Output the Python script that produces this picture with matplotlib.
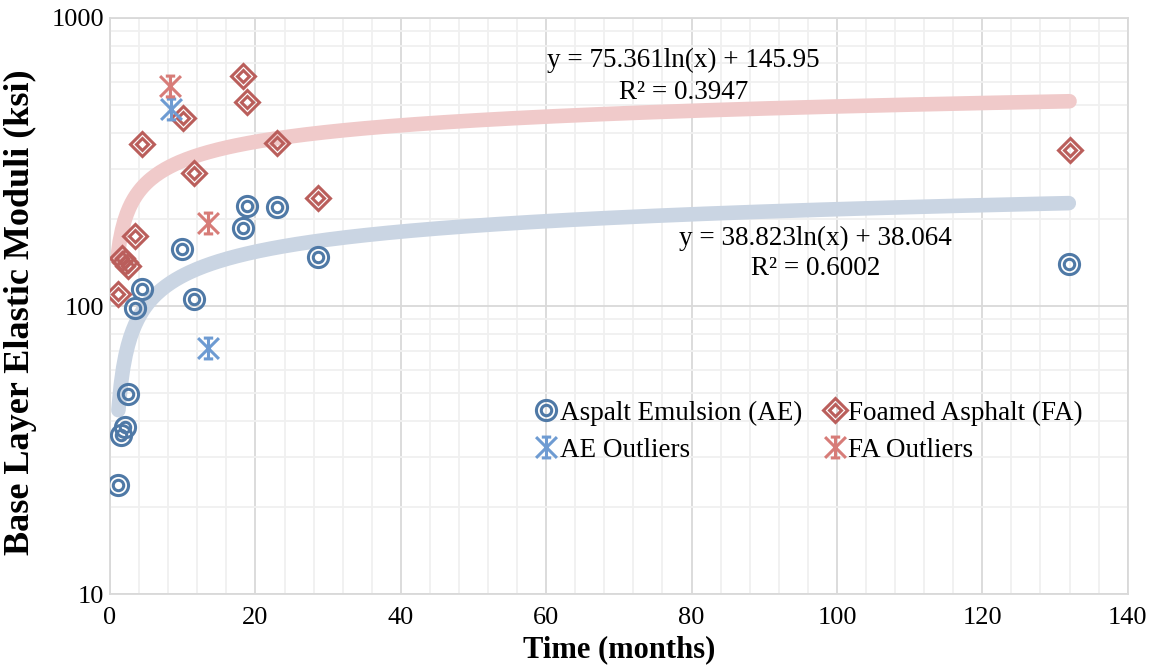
import numpy as np
import matplotlib.pyplot as plt
from matplotlib.path import Path
from matplotlib.ticker import FixedLocator, NullFormatter
from matplotlib.legend_handler import HandlerTuple

plt.rcParams['font.family'] = ['Liberation Serif', 'DejaVu Serif']

# data (time in months, modulus in ksi)
ae_time = [1.15, 1.5, 2.07, 2.5, 3.5, 4.4, 9.96, 11.6, 18.3, 18.8, 22.96, 28.55, 131.9]
ae_mod = [24.0, 35.8, 38.1, 49.4, 98.2, 114.2, 157.8, 105.5, 186.1, 222.9, 221.3, 148.3, 139.9]

fa_time = [1.15, 1.6, 2.07, 2.5, 3.5, 4.45, 10.0, 11.6, 18.3, 18.8, 22.96, 28.55, 132.0]
fa_mod = [109.8, 146.4, 142.5, 137.7, 175.0, 365.0, 448.5, 289.0, 630.0, 509.6, 369.0, 237.8, 348.0]

ae_out_time = [8.36, 13.45]
ae_out_mod = [481.8, 71.7]
fa_out_time = [8.26, 13.5]
fa_out_mod = [580.7, 194.6]

# logarithmic trendlines shown on the chart: y = a ln(x) + b
ae_a, ae_b, ae_r2 = 38.823, 38.064, 0.6002
fa_a, fa_b, fa_r2 = 75.361, 145.95, 0.3947

blue = '#4F79A6'
red = '#BA5E5B'
blue_out = '#6E9BD2'
red_out = '#D77C78'

# excel-like star marker
star = Path([(-1, -1), (1, 1), (-1, 1), (1, -1), (0, -1), (0, 1),
             (-0.45, 1), (0.45, 1), (-0.45, -1), (0.45, -1)],
            [Path.MOVETO, Path.LINETO] * 5)

circ_outer = dict(ls='none', marker='o', ms=14.5, mfc='none', mec=blue, mew=2.2, zorder=4)
circ_inner = dict(ls='none', marker='o', ms=7.5, mfc='none', mec=blue, mew=2.2, zorder=4)
dia_outer = dict(ls='none', marker='D', ms=12.5, mfc='none', mec=red, mew=2.2, zorder=4)
dia_inner = dict(ls='none', marker='D', ms=6, mfc='none', mec=red, mew=2.2, zorder=4)
ae_star = dict(ls='none', marker=star, ms=15, mec=blue_out, mew=2.2, zorder=4)
fa_star = dict(ls='none', marker=star, ms=15, mec=red_out, mew=2.2, zorder=4)

fig = plt.figure(figsize=(11.56, 6.66), dpi=100)
ax = fig.add_axes([0.0952, 0.108, 0.8803, 0.865])

# trendlines
xa = np.linspace(min(ae_time), max(ae_time), 400)
ax.plot(xa, ae_a * np.log(xa) + ae_b, color='#CAD5E3', lw=10.5, solid_capstyle='round', zorder=2)
xf = np.linspace(1.0, max(fa_time), 400)
ax.plot(xf, fa_a * np.log(xf) + fa_b, color='#F0CACA', lw=10.5, solid_capstyle='round', zorder=2)

# markers
ax.plot(ae_time, ae_mod, **circ_outer)
ax.plot(ae_time, ae_mod, **circ_inner)
ax.plot(fa_time, fa_mod, **dia_outer)
ax.plot(fa_time, fa_mod, **dia_inner)
ax.plot(ae_out_time, ae_out_mod, **ae_star)
ax.plot(fa_out_time, fa_out_mod, **fa_star)

ax.set_yscale('log')
ax.set_xlim(0, 140)
ax.set_ylim(10, 1000)
ax.set_xticks(np.arange(0, 141, 20))
ax.xaxis.set_minor_locator(FixedLocator(np.arange(0, 141, 4)))
ax.set_yticks([10, 100, 1000])
ax.set_yticklabels(['10', '100', '1000'])
ax.yaxis.set_minor_locator(FixedLocator([m * d for d in (10, 100) for m in range(2, 10)]))
ax.yaxis.set_minor_formatter(NullFormatter())
ax.tick_params(which='both', length=0, labelsize=19)
ax.tick_params(axis='x', pad=9)
ax.tick_params(axis='y', pad=4)
ax.grid(which='major', color='#D9D9D9', lw=1.3, zorder=0)
ax.grid(which='minor', color='#F0F0F0', lw=1.3, zorder=0)
ax.set_axisbelow(True)
for s in ax.spines.values():
    s.set_color('#D9D9D9')
    s.set_linewidth(1.3)

ax.set_xlabel('Time (months)', fontsize=22, fontweight='bold')
ax.xaxis.set_label_coords(0.5, -0.072)
ax.set_ylabel('Base Layer Elastic Moduli (ksi)', fontsize=26, fontweight='bold')
ax.yaxis.set_label_coords(-0.072, 0.49)

ax.text(78.9, 714, 'y = 75.361ln(x) + 145.95', fontsize=19.5, ha='center', va='center')
ax.text(78.9, 549, 'R² = %.4f' % fa_r2, fontsize=19.5, ha='center', va='center')
ax.text(97.1, 172, 'y = 38.823ln(x) + 38.064', fontsize=19.5, ha='center', va='center')
ax.text(97.1, 135.5, 'R² = %.4f' % ae_r2, fontsize=19.5, ha='center', va='center')

# legend proxies
h_ae = (ax.plot([], [], **circ_outer)[0], ax.plot([], [], **circ_inner)[0])
h_fa = (ax.plot([], [], **dia_outer)[0], ax.plot([], [], **dia_inner)[0])
h_aeo = ax.plot([], [], **ae_star)[0]
h_fao = ax.plot([], [], **fa_star)[0]
ax.legend([h_ae, h_aeo, h_fa, h_fao],
          ['Aspalt Emulsion (AE)', 'AE Outliers', 'Foamed Asphalt (FA)', 'FA Outliers'],
          handler_map={tuple: HandlerTuple(ndivide=1, pad=0)},
          ncol=2, loc='center left', bbox_to_anchor=(0.41, 0.282), frameon=False,
          fontsize=19.5, handlelength=0.6, handletextpad=0.2, columnspacing=0.9,
          labelspacing=0.45, borderaxespad=0)

fig.savefig('out.png', dpi=100)
